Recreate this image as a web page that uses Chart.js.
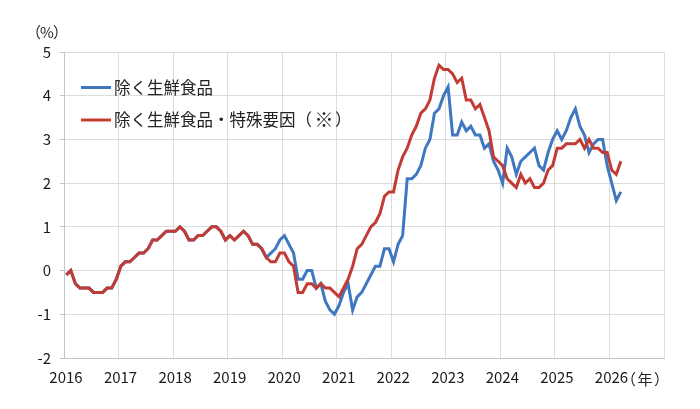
<!DOCTYPE html>
<html>
<head>
<meta charset="utf-8">
<script src="https://cdn.jsdelivr.net/npm/chart.js@4.4.1/dist/chart.umd.min.js"></script>
<style>
  html, body { margin: 0; padding: 0; background: #fff; }
  #wrap { width: 700px; height: 409px; position: relative; }
</style>
</head>
<body>
<div id="wrap"><canvas id="cpiChart"></canvas></div>
<script>
// 前年同月比（%）、2016年1月〜2026年3月
const yearLabels = ['2016', '2017', '2018', '2019', '2020', '2021', '2022', '2023', '2024', '2025', '2026'];
const seriesNames = ['除く生鮮食品', '除く生鮮食品・特殊要因（※）'];

const coreCpi = [
  -0.1, 0.0, -0.3, -0.4, -0.4, -0.4, -0.5, -0.5, -0.5, -0.4, -0.4, -0.2,
  0.1, 0.2, 0.2, 0.3, 0.4, 0.4, 0.5, 0.7, 0.7, 0.8, 0.9, 0.9,
  0.9, 1.0, 0.9, 0.7, 0.7, 0.8, 0.8, 0.9, 1.0, 1.0, 0.9, 0.7,
  0.8, 0.7, 0.8, 0.9, 0.8, 0.6, 0.6, 0.5, 0.3, 0.4, 0.5, 0.7,
  0.8, 0.6, 0.4, -0.2, -0.2, 0.0, 0.0, -0.4, -0.3, -0.7, -0.9, -1.0,
  -0.8, -0.5, -0.3, -0.9, -0.6, -0.5, -0.3, -0.1, 0.1, 0.1, 0.5, 0.5,
  0.2, 0.6, 0.8, 2.1, 2.1, 2.2, 2.4, 2.8, 3.0, 3.6, 3.7, 4.0,
  4.2, 3.1, 3.1, 3.4, 3.2, 3.3, 3.1, 3.1, 2.8, 2.9, 2.5, 2.3,
  2.0, 2.8, 2.6, 2.2, 2.5, 2.6, 2.7, 2.8, 2.4, 2.3, 2.7, 3.0,
  3.2, 3.0, 3.2, 3.5, 3.7, 3.3, 3.1, 2.7, 2.9, 3.0, 3.0, 2.4,
  2.0, 1.6, 1.8
];

const coreExSpecial = [
  -0.1, 0.0, -0.3, -0.4, -0.4, -0.4, -0.5, -0.5, -0.5, -0.4, -0.4, -0.2,
  0.1, 0.2, 0.2, 0.3, 0.4, 0.4, 0.5, 0.7, 0.7, 0.8, 0.9, 0.9,
  0.9, 1.0, 0.9, 0.7, 0.7, 0.8, 0.8, 0.9, 1.0, 1.0, 0.9, 0.7,
  0.8, 0.7, 0.8, 0.9, 0.8, 0.6, 0.6, 0.5, 0.3, 0.2, 0.2, 0.4,
  0.4, 0.2, 0.1, -0.5, -0.5, -0.3, -0.3, -0.4, -0.3, -0.4, -0.4, -0.5,
  -0.6, -0.4, -0.2, 0.1, 0.5, 0.6, 0.8, 1.0, 1.1, 1.3, 1.7, 1.8,
  1.8, 2.3, 2.6, 2.8, 3.1, 3.3, 3.6, 3.7, 3.9, 4.4, 4.7, 4.6,
  4.6, 4.5, 4.3, 4.4, 3.9, 3.9, 3.7, 3.8, 3.5, 3.2, 2.6, 2.5,
  2.4, 2.1, 2.0, 1.9, 2.2, 2.0, 2.1, 1.9, 1.9, 2.0, 2.3, 2.4,
  2.8, 2.8, 2.9, 2.9, 2.9, 3.0, 2.8, 3.0, 2.8, 2.8, 2.7, 2.7,
  2.3, 2.2, 2.5
];

const yMin = -2, yMax = 5;

const FONT = '"Noto Sans CJK JP", sans-serif';
const BLUE = '#3f77c1';
const RED = '#c23b35';

// 月番号（月の中ほど）を x に
const toPoints = arr => arr.map((v, i) => ({ x: i + 0.5, y: v }));

// 括弧付きの単位ラベルを1文字ずつ置く
function drawUnit(ctx, inner, cx, y, half) {
  ctx.textAlign = 'right';
  ctx.fillText('（', cx - half, y);
  ctx.textAlign = 'center';
  ctx.fillText(inner, cx, y);
  ctx.textAlign = 'left';
  ctx.fillText('）', cx + half, y);
}

// 凡例と単位ラベル（グラフ内に手描き）
const extrasPlugin = {
  id: 'extras',
  afterDraw(chart) {
    const { ctx, chartArea } = chart;
    ctx.save();
    ctx.textBaseline = 'middle';

    const colors = [BLUE, RED];
    seriesNames.forEach((name, k) => {
      const y = chartArea.top + 35.5 + k * 32.5;
      ctx.strokeStyle = colors[k];
      ctx.lineWidth = 3;
      ctx.beginPath();
      ctx.moveTo(chartArea.left + 17, y);
      ctx.lineTo(chartArea.left + 47, y);
      ctx.stroke();
      ctx.fillStyle = '#222';
      ctx.font = '16.5px ' + FONT;
      ctx.textAlign = 'left';
      const tx = chartArea.left + 50;
      const cut = name.indexOf('（※）');
      if (cut < 0) {
        ctx.fillText(name, tx, y);
      } else {
        const head = name.slice(0, cut + 1);
        ctx.fillText(head, tx, y);
        const w = ctx.measureText(head).width;
        ctx.font = '19px ' + FONT;
        ctx.textAlign = 'center';
        ctx.fillText('※', tx + w + 12, y);
        ctx.font = '16.5px ' + FONT;
        ctx.textAlign = 'left';
        ctx.fillText('）', tx + w + 23, y);
      }
    });

    ctx.font = '15px ' + FONT;
    ctx.fillStyle = '#222';
    drawUnit(ctx, '%', 47, 32, 6);
    drawUnit(ctx, '年', 645, 379, 9);
    ctx.restore();
  }
};

new Chart(document.getElementById('cpiChart'), {
  type: 'line',
  data: {
    datasets: [
      {
        label: seriesNames[0],
        data: toPoints(coreCpi),
        borderColor: BLUE,
        borderWidth: 3,
        pointRadius: 0,
        tension: 0,
        order: 1,
      },
      {
        label: seriesNames[1],
        data: toPoints(coreExSpecial),
        borderColor: RED,
        borderWidth: 3,
        pointRadius: 0,
        tension: 0,
        order: 0,
      },
    ],
  },
  options: {
    responsive: true,
    maintainAspectRatio: false,
    animation: false,
    layout: { padding: { top: 52, right: 36, bottom: 0, left: 0 } },
    plugins: {
      legend: { display: false },
      tooltip: { enabled: false },
    },
    scales: {
      x: {
        type: 'linear',
        min: 0,
        max: yearLabels.length * 12,
        afterFit(scale) { scale.height = 51; },
        afterBuildTicks(scale) {
          const t = [];
          for (let v = 0; v <= yearLabels.length * 12; v += 12) t.push({ value: v });
          scale.ticks = t;
        },
        ticks: {
          autoSkip: false,
          maxRotation: 0,
          padding: 10,
          labelOffset: 2,
          color: '#1a1a1a',
          font: { family: FONT, size: 15 },
          callback: v => yearLabels[v / 12] || '',
        },
        grid: { color: '#dcdcdc', lineWidth: 1, drawTicks: false },
        border: { color: '#c4c4c4', width: 1 },
      },
      y: {
        min: yMin,
        max: yMax,
        afterFit(scale) { scale.width = 64; },
        ticks: {
          stepSize: 1,
          padding: 9,
          color: '#1a1a1a',
          font: { family: FONT, size: 15 },
        },
        grid: { color: '#dcdcdc', lineWidth: 1, tickLength: 4, tickColor: '#c4c4c4' },
        border: { color: '#c4c4c4', width: 1 },
      },
    },
  },
  plugins: [extrasPlugin],
});
</script>
</body>
</html>
